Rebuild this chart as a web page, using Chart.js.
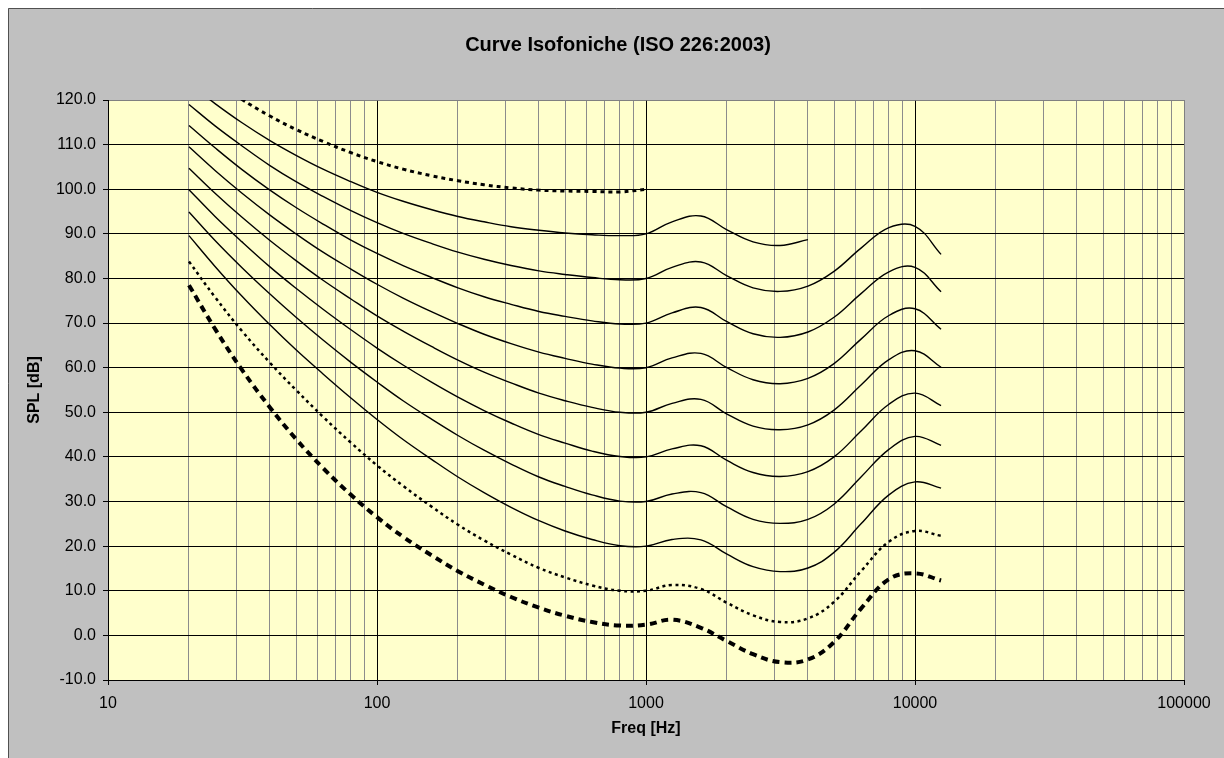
<!DOCTYPE html>
<html>
<head>
<meta charset="utf-8">
<script src="https://cdn.jsdelivr.net/npm/chart.js@4"></script>
<style>
  html, body { margin: 0; padding: 0; background: #fff; overflow: hidden; }
  #grafico { display: block; }
</style>
</head>
<body>
<canvas id="grafico" width="1224" height="758"></canvas>
<script>
// Frequenze (Hz) delle bande a terzi d'ottava
const frequenze = [20, 25, 31.5, 40, 50, 63, 80, 100, 125, 160, 200, 250, 315, 400, 500, 630, 800, 1000,
    1250, 1600, 2000, 2500, 3150, 4000, 5000, 6300, 8000, 10000, 12500];

// Soglia di udibilita'
const soglia = [78.5, 68.7, 59.5, 51.1, 44.0, 37.5, 31.5, 26.5, 22.1, 17.9, 14.4, 11.4, 8.6, 6.2, 4.4, 3.0, 2.2, 2.4,
    3.5, 1.7, -1.3, -4.2, -6.0, -5.4, -1.5, 6.0, 12.6, 13.9, 12.3];
const phon10 = [83.8, 75.8, 68.2, 61.1, 55.0, 49.0, 43.2, 38.1, 33.5, 28.8, 24.8, 21.3, 18.1, 15.1, 13.0, 11.2, 10.0, 10.0,
    11.3, 10.4, 7.3, 4.5, 3.0, 3.8, 7.5, 14.4, 21.0, 23.4, 22.3];
const phon20 = [89.6, 82.7, 76.0, 69.6, 64.0, 58.6, 53.2, 48.4, 43.9, 39.4, 35.5, 32.0, 28.7, 25.7, 23.4, 21.5, 20.1, 20.0,
    21.5, 21.4, 18.2, 15.4, 14.3, 15.1, 18.6, 25.0, 31.5, 34.4, 33.0];
const phon30 = [94.9, 88.5, 82.4, 76.5, 71.3, 66.2, 61.2, 56.8, 52.6, 48.4, 44.8, 41.5, 38.4, 35.5, 33.4, 31.5, 30.1, 30.0,
    31.7, 32.0, 28.8, 26.0, 25.1, 26.0, 29.4, 35.5, 41.7, 44.6, 42.6];
const phon40 = [99.9, 93.9, 88.2, 82.6, 77.8, 73.1, 68.5, 64.4, 60.6, 56.7, 53.4, 50.4, 47.6, 45.0, 43.1, 41.3, 40.1, 40.0,
    41.8, 42.5, 39.2, 36.5, 35.6, 36.7, 40.0, 45.8, 51.8, 54.3, 51.5];
const phon50 = [104.7, 99.1, 93.7, 88.5, 84.0, 79.6, 75.4, 71.6, 68.2, 64.7, 61.7, 59.0, 56.6, 54.3, 52.6, 51.1, 50.0, 50.0,
    52.0, 52.9, 49.6, 46.9, 46.1, 47.2, 50.5, 56.1, 61.8, 63.8, 60.1];
const phon60 = [109.5, 104.2, 99.1, 94.2, 90.0, 85.9, 82.1, 78.7, 75.6, 72.5, 69.9, 67.5, 65.4, 63.5, 62.1, 60.8, 59.9, 60.0,
    62.2, 63.2, 60.0, 57.3, 56.4, 57.6, 60.9, 66.4, 71.7, 73.2, 68.6];
const phon70 = [114.3, 109.3, 104.4, 99.8, 95.9, 92.2, 88.6, 85.6, 82.9, 80.2, 77.9, 75.9, 74.2, 72.6, 71.5, 70.5, 69.8, 70.0,
    72.3, 73.5, 70.3, 67.6, 66.8, 68.0, 71.3, 76.6, 81.5, 82.5, 77.0];
const phon80 = [119.0, 114.2, 109.7, 105.3, 101.7, 98.4, 95.2, 92.5, 90.1, 87.8, 85.9, 84.3, 82.9, 81.7, 80.9, 80.2, 79.7, 80.0,
    82.5, 83.7, 80.6, 77.9, 77.1, 78.3, 81.6, 86.8, 91.4, 91.7, 85.4];
// 90 phon solo fino a 4 kHz, 100 phon solo fino a 1 kHz
const phon90 = [123.7, 119.2, 114.9, 110.9, 107.6, 104.5, 101.7, 99.3, 97.3, 95.4, 93.9, 92.7, 91.6, 90.8, 90.2, 89.8, 89.6, 90.0,
    92.7, 94.0, 90.9, 88.2, 87.4, 88.7];
const phon100 = [128.4, 124.2, 120.1, 116.4, 113.4, 110.7, 108.2, 106.2, 104.5, 103.0, 101.9, 101.0, 100.3, 99.8, 99.6, 99.5, 99.4, 100.0];

// Tick asse X (decadi)
const decadi = [10, 100, 1000, 10000, 100000];

function punti(valori) {
    return valori.map((v, i) => ({ x: frequenze[i], y: v }));
}

function isDecade(v) {
    return decadi.some(d => Math.abs(v - d) < 1e-6);
}

// griglia minore solo su 2,3,...,9 x decade
function isMinore(v) {
    const m = v / Math.pow(10, Math.floor(Math.log10(v) + 1e-9));
    return Math.abs(m - Math.round(m)) < 1e-6;
}

function serie(nome, valori, spessore, tratteggio) {
    return {
        label: nome,
        data: punti(valori),
        borderColor: '#000',
        borderWidth: spessore,
        borderDash: tratteggio || [],
        pointRadius: 0,
        tension: 0.4,
        fill: false
    };
}

// Sfondo grigio stile Excel e area del grafico gialla
const sfondo = {
    id: 'sfondo',
    beforeDraw(chart) {
        const { ctx, width, height, chartArea } = chart;
        ctx.save();
        ctx.fillStyle = '#fff';
        ctx.fillRect(0, 0, width, height);
        ctx.fillStyle = '#c0c0c0';
        ctx.fillRect(8, 8, width - 8, height - 8);
        ctx.strokeStyle = '#505050';
        ctx.lineWidth = 1;
        ctx.beginPath();
        ctx.moveTo(8.5, height);
        ctx.lineTo(8.5, 8.5);
        ctx.lineTo(width, 8.5);
        ctx.stroke();
        ctx.fillStyle = '#ffffcc';
        ctx.fillRect(chartArea.left, chartArea.top, chartArea.right - chartArea.left, chartArea.bottom - chartArea.top);
        ctx.restore();
    }
};

Chart.defaults.font.family = 'Arial, "Liberation Sans", sans-serif';
Chart.defaults.color = '#000';

const ctx = document.getElementById('grafico').getContext('2d');
new Chart(ctx, {
    type: 'line',
    data: {
        datasets: [
            serie('Soglia', soglia, 4, [7, 5]),
            serie('10 phon', phon10, 2.5, [3, 3.5]),
            serie('20 phon', phon20, 1.4),
            serie('30 phon', phon30, 1.4),
            serie('40 phon', phon40, 1.4),
            serie('50 phon', phon50, 1.4),
            serie('60 phon', phon60, 1.4),
            serie('70 phon', phon70, 1.4),
            serie('80 phon', phon80, 1.4),
            serie('90 phon', phon90, 1.4),
            serie('100 phon', phon100, 3, [4, 4])
        ]
    },
    options: {
        responsive: false,
        animation: false,
        events: [],
        layout: {
            padding: { left: 12, right: 0, top: 0, bottom: 0 }
        },
        plugins: {
            legend: { display: false },
            tooltip: { enabled: false },
            title: {
                display: true,
                text: 'Curve Isofoniche (ISO 226:2003)',
                font: { size: 20, weight: 'bold' },
                color: '#000',
                padding: { top: 33, bottom: 43 }
            }
        },
        scales: {
            x: {
                type: 'logarithmic',
                min: 10,
                max: 100000,
                afterFit: function(scale) { scale.height = 78; },
                border: { color: '#000', width: 1 },
                grid: {
                    color: function(c) {
                        const v = c.tick.value;
                        if (!isMinore(v)) return 'rgba(0,0,0,0)';
                        if (Math.abs(v - 100000) < 1e-6) return '#808080';
                        return isDecade(v) ? '#000' : '#8c8c8c';
                    },
                    tickColor: function(c) {
                        return isDecade(c.tick.value) ? '#000' : 'rgba(0,0,0,0)';
                    },
                    tickLength: 5,
                    lineWidth: 1
                },
                ticks: {
                    autoSkip: false,
                    maxRotation: 0,
                    minRotation: 0,
                    padding: 9,
                    font: { size: 16 },
                    color: '#000',
                    callback: function(value) {
                        return isDecade(value) ? String(Math.round(value)) : '';
                    }
                },
                title: {
                    display: true,
                    text: 'Freq [Hz]',
                    font: { size: 16, weight: 'bold' },
                    color: '#000',
                    padding: { top: 0, bottom: 20 }
                }
            },
            y: {
                type: 'linear',
                min: -10,
                max: 120,
                afterFit: function(scale) { scale.width = 96; },
                border: { color: '#000', width: 1 },
                grid: {
                    color: function(c) {
                        return c.tick && c.tick.value === 120 ? '#808080' : '#000';
                    },
                    tickColor: '#000',
                    tickLength: 5,
                    lineWidth: 1
                },
                ticks: {
                    stepSize: 10,
                    padding: 7,
                    font: { size: 16 },
                    color: '#000',
                    callback: function(value) {
                        return value.toFixed(1);
                    }
                },
                title: {
                    display: true,
                    text: 'SPL [dB]',
                    font: { size: 16, weight: 'bold' },
                    color: '#000',
                    padding: { top: 13, bottom: 0 }
                }
            },
            // asse vuoto a destra: solo spazio
            y2: {
                position: 'right',
                display: true,
                afterFit: function(scale) { scale.width = 40; },
                grid: { display: false, drawTicks: false },
                border: { display: false },
                ticks: { display: false }
            }
        }
    },
    plugins: [sfondo]
});
</script>
</body>
</html>
